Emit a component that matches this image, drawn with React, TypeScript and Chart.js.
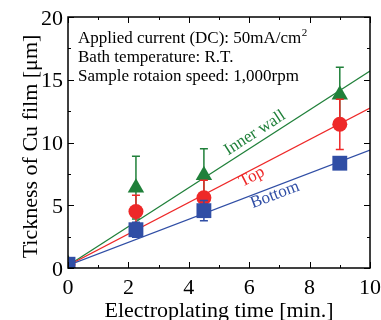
import React, { useEffect, useRef } from "react";
import { Chart, registerables } from "chart.js";

Chart.register(...registerables);

const times = [0, 2.25, 4.5, 9];
const innerWall = [0.3, 6.4, 7.4, 13.8];
const innerWallErr = [0, 2.5, 2.1, 2.2];
const top = [0.3, 4.5, 5.6, 11.45];
const topErr = [0, 1.3, 1.4, 2.0];
const bottom = [0.3, 3.05, 4.57, 8.35];
const bottomErr = [0, 0.6, 0.8, 0.3];

const fitX = [0, 10];
const fitInner = [0.2, 15.7];
const fitTop = [0.2, 12.75];
const fitBottom = [0.2, 9.4];

const xTicks = [0, 2, 4, 6, 8, 10];
const yTicks = [0, 5, 10, 15, 20];

const xTitle = "Electroplating time [min.]";
const yTitle = "Tickness of Cu film [μm]";
const infoLines = ["Applied current (DC): 50mA/cm", "Bath temperature: R.T.", "Sample rotaion speed: 1,000rpm"];

const GREEN = "rgb(32,128,58)";
const RED = "rgb(238,40,40)";
const BLUE = "rgb(48,78,165)";
const SERIF = "'Liberation Serif', 'DejaVu Serif', serif";

const pts = (xs: number[], ys: number[]) => xs.map((x, i) => ({ x, y: ys[i] }));

const errMap: Record<number, { err: number[]; ys: number[]; color: string }> = {
  0: { err: bottomErr, ys: bottom, color: BLUE },
  1: { err: topErr, ys: top, color: RED },
  2: { err: innerWallErr, ys: innerWall, color: GREEN },
};

const lineLabels = [
  { text: "Inner wall", x: 6.19, y: 10.76, angle: 32.8, color: GREEN },
  { text: "Top", x: 6.09, y: 7.25, angle: 27.5, color: RED },
  { text: "Bottom", x: 6.85, y: 5.82, angle: 20.9, color: BLUE },
];

const decorPlugin = {
  id: "decor",
  beforeDatasetDraw(chart: any, args: any) {
    const e = errMap[args.index];
    if (!e) return;
    const { ctx, scales } = chart;
    const xs = scales.x, ys = scales.y;
    ctx.save();
    ctx.strokeStyle = e.color;
    ctx.lineWidth = 1.5;
    times.forEach((t, i) => {
      if (!e.err[i]) return;
      const px = xs.getPixelForValue(t);
      const p1 = ys.getPixelForValue(e.ys[i] + e.err[i]);
      const p2 = ys.getPixelForValue(e.ys[i] - e.err[i]);
      ctx.beginPath();
      ctx.moveTo(px, p1); ctx.lineTo(px, p2);
      ctx.moveTo(px - 4, p1); ctx.lineTo(px + 4, p1);
      ctx.moveTo(px - 4, p2); ctx.lineTo(px + 4, p2);
      ctx.stroke();
    });
    ctx.restore();
  },
  beforeDatasetsDraw(chart: any) {
    const { ctx, chartArea: a, scales } = chart;
    ctx.save();
    lineLabels.forEach((l) => {
      const px = scales.x.getPixelForValue(l.x);
      const py = scales.y.getPixelForValue(l.y);
      ctx.save();
      ctx.translate(px, py);
      ctx.rotate((-l.angle * Math.PI) / 180);
      ctx.fillStyle = l.color;
      ctx.font = `17px ${SERIF}`;
      ctx.textAlign = "center";
      ctx.textBaseline = "middle";
      ctx.fillText(l.text, 0, 0);
      ctx.restore();
    });
    ctx.fillStyle = "#000";
    ctx.font = `17px ${SERIF}`;
    ctx.textAlign = "left";
    ctx.textBaseline = "alphabetic";
    const x0 = a.left + 10;
    infoLines.forEach((s, i) => {
      const by = a.top + 26 + i * 19;
      ctx.fillText(s, x0, by);
      if (i === 0) {
        const w = ctx.measureText(s).width;
        ctx.font = `11px ${SERIF}`;
        ctx.fillText("2", x0 + w + 0.5, by - 7);
        ctx.font = `17px ${SERIF}`;
      }
    });
    ctx.restore();
  },
  afterDraw(chart: any) {
    const { ctx, chartArea: a, scales } = chart;
    ctx.save();
    ctx.strokeStyle = "#000";
    ctx.lineWidth = 1.5;
    ctx.strokeRect(a.left, a.top, a.right - a.left, a.bottom - a.top);
    ctx.lineWidth = 1;
    ctx.beginPath();
    for (let v = 0; v <= 10; v += 1) {
      const px = Math.round(scales.x.getPixelForValue(v)) + 0.5;
      const len = v % 2 === 0 ? 6 : 3;
      ctx.moveTo(px, a.bottom); ctx.lineTo(px, a.bottom - len);
      ctx.moveTo(px, a.top); ctx.lineTo(px, a.top + len);
    }
    for (let v = 0; v <= 20; v += 2.5) {
      const py = Math.round(scales.y.getPixelForValue(v)) + 0.5;
      const len = v % 5 === 0 ? 6 : 3;
      ctx.moveTo(a.left, py); ctx.lineTo(a.left + len, py);
      ctx.moveTo(a.right, py); ctx.lineTo(a.right - len, py);
    }
    ctx.stroke();
    // tick labels
    ctx.fillStyle = "#000";
    ctx.font = `22px ${SERIF}`;
    ctx.textBaseline = "alphabetic";
    ctx.textAlign = "center";
    xTicks.forEach((v) => {
      ctx.fillText(String(v), scales.x.getPixelForValue(v), a.bottom + 26);
    });
    ctx.textAlign = "right";
    yTicks.forEach((v) => {
      ctx.fillText(String(v), a.left - 5, scales.y.getPixelForValue(v) + 7.5);
    });
    // titles
    ctx.textAlign = "center";
    ctx.fillText(xTitle, (a.left + a.right) / 2, a.bottom + 49);
    ctx.save();
    ctx.translate(37, (a.top + a.bottom) / 2 + 4);
    ctx.rotate(-Math.PI / 2);
    ctx.fillText(yTitle, 0, 0);
    ctx.restore();
    ctx.restore();
  },
};

export default function App() {
  const ref = useRef<HTMLCanvasElement>(null);
  useEffect(() => {
    document.body.style.margin = "0";
    const chart = new Chart(ref.current!, {
      type: "scatter",
      data: {
        datasets: [
          { label: "Bottom", data: pts(times, bottom), pointStyle: "rect", pointRadius: 10.5, backgroundColor: BLUE, borderColor: BLUE, borderWidth: 0 },
          { label: "Top", data: pts(times, top), pointStyle: "circle", pointRadius: 7.5, backgroundColor: RED, borderColor: RED, borderWidth: 0 },
          { label: "Inner wall", data: pts(times, innerWall), pointStyle: "triangle", pointRadius: 9.5, backgroundColor: GREEN, borderColor: GREEN, borderWidth: 0 },
          { label: "fitBottom", data: pts(fitX, fitBottom), showLine: true, pointRadius: 0, borderColor: BLUE, borderWidth: 1.2 },
          { label: "fitTop", data: pts(fitX, fitTop), showLine: true, pointRadius: 0, borderColor: RED, borderWidth: 1.2 },
          { label: "fitInner", data: pts(fitX, fitInner), showLine: true, pointRadius: 0, borderColor: GREEN, borderWidth: 1.2 },
        ],
      },
      options: {
        animation: false,
        responsive: false,
        layout: { padding: { top: 17, right: 11, left: 0, bottom: 0 } },
        plugins: { legend: { display: false }, tooltip: { enabled: false } },
        scales: {
          x: {
            type: "linear",
            min: 0,
            max: 10,
            afterFit: (s: any) => { s.height = 52; },
            grid: { display: false },
            border: { display: false },
            ticks: { display: false },
          },
          y: {
            type: "linear",
            min: 0,
            max: 20,
            afterFit: (s: any) => { s.width = 68; },
            grid: { display: false },
            border: { display: false },
            ticks: { display: false },
          },
        },
      },
      plugins: [decorPlugin],
    } as any);
    return () => chart.destroy();
  }, []);
  return <canvas ref={ref} width={381} height={320} style={{ display: "block" }} />;
}
